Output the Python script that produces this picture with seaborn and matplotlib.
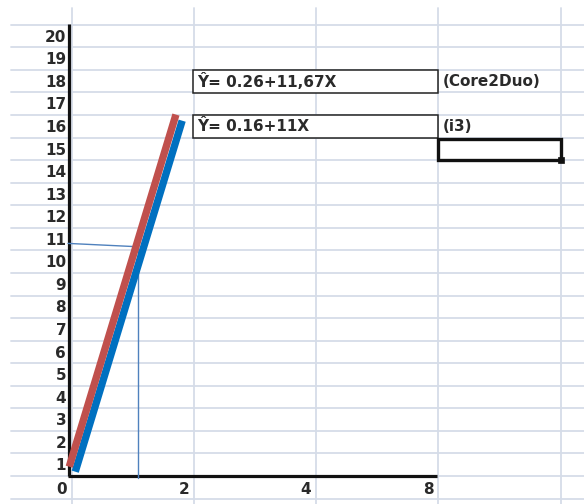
import matplotlib
matplotlib.use("Agg")
import matplotlib.pyplot as plt
import seaborn as sns
import pandas as pd
from matplotlib.patches import Rectangle

# ---------------- data (sheet-cell units: 1 column / 1 row per unit) -------------
y_labels = list(range(1, 21))
x_labels = ["0", "2", "4", "8"]
x_label_cols = [0, 1, 2, 3]

core2duo_x = [-0.020, 0.853]
core2duo_y = [0.412, 16.02]
i3_x = [0.029, 0.904]
i3_y = [0.191, 15.75]

guide_h_x = [-0.03, 0.51]
guide_h_y = [10.31, 10.17]
guide_v_x = [0.545, 0.545]
guide_v_y = [10.24, -0.09]

equations = ["Ŷ= 0.26+11,67X", "Ŷ= 0.16+11X"]
series_names = ["(Core2Duo)", "(i3)"]
equation_rows = [17, 15]

# ---------------------------------------------------------------------------------
sns.set_theme(style="white")
plt.rcParams["font.family"] = ["DejaVu Sans"]

W, H = 584, 504
fig = plt.figure(figsize=(W / 100, H / 100), dpi=100)
ax = fig.add_axes([0, 0, 1, 1])
x_left = -71.7 / 122.2
x_right = (W - 71.7) / 122.2
y_top = 476 / 22.56
y_bot = (476 - H) / 22.56
ax.set_xlim(x_left, x_right)
ax.set_ylim(y_bot, y_top)
ax.set_axis_off()

grid_c = "#d5dce8"
FS = 11
TC = "#2a2a2a"
# sheet gridlines
for r in range(-1, 21):
    ax.plot([-0.5, x_right], [r, r], color=grid_c, lw=1.3, zorder=0)
for c in range(0, 5):
    ax.plot([c, c], [y_bot, 20.74], color=grid_c, lw=1.3, zorder=0)

# y labels in column A
for k in y_labels:
    ax.text(-0.045, k - 0.55, str(k), ha="right", va="center",
            fontsize=FS, fontweight="bold", color=TC, zorder=3)
# x labels
for lab, c in zip(x_labels, x_label_cols):
    ax.text(c - 0.04, -0.58, lab, ha="right", va="center",
            fontsize=FS, fontweight="bold", color=TC, zorder=3)

# axes lines
ax.plot([-0.022, -0.022], [0.0, 20.04], color="#111111", lw=2.3,
        solid_capstyle="butt", zorder=4)
ax.plot([-0.03, 2.99], [0.02, 0.02], color="#111111", lw=2.3,
        solid_capstyle="butt", zorder=4)

# guide lines
ax.plot(guide_h_x, guide_h_y, color="#4f81bd", lw=1.0, zorder=5)
ax.plot(guide_v_x, guide_v_y, color="#4f81bd", lw=1.0, zorder=5)

# regression lines
df = pd.DataFrame({
    "x": i3_x + core2duo_x,
    "y": i3_y + core2duo_y,
    "cpu": ["i3"] * len(i3_x) + ["Core2Duo"] * len(core2duo_x),
})
sns.lineplot(data=df, x="x", y="y", hue="cpu", hue_order=["i3", "Core2Duo"],
             palette={"i3": "#0070c0", "Core2Duo": "#c0504d"},
             lw=5.3, legend=False, ax=ax, sort=False, estimator=None,
             solid_capstyle="butt", zorder=6)
ax.set_xlim(x_left, x_right)
ax.set_ylim(y_bot, y_top)
ax.set_axis_off()

# equation boxes
for eq, name, row in zip(equations, series_names, equation_rows):
    ax.add_patch(Rectangle((0.995, row - 0.03), 2.0, 1.03, fill=True,
                           facecolor="white", edgecolor="#222222", lw=1.1, zorder=7))
    ax.text(1.03, row + 0.47, eq, ha="left", va="center", fontsize=FS,
            fontweight="bold", color=TC, zorder=8)
    ax.text(3.04, row + 0.47, name, ha="left", va="center", fontsize=FS,
            fontweight="bold", color=TC, zorder=8)

# selected cell
ax.add_patch(Rectangle((2.995, 14.0), 1.005, 0.96, fill=False,
                       edgecolor="#111111", lw=2.4, zorder=7))
ax.plot([4.0], [14.0], marker="s", ms=4.5, color="#111111",
        markeredgecolor="#111111", markeredgewidth=0.5, zorder=8)

fig.savefig("out.png", dpi=100)
